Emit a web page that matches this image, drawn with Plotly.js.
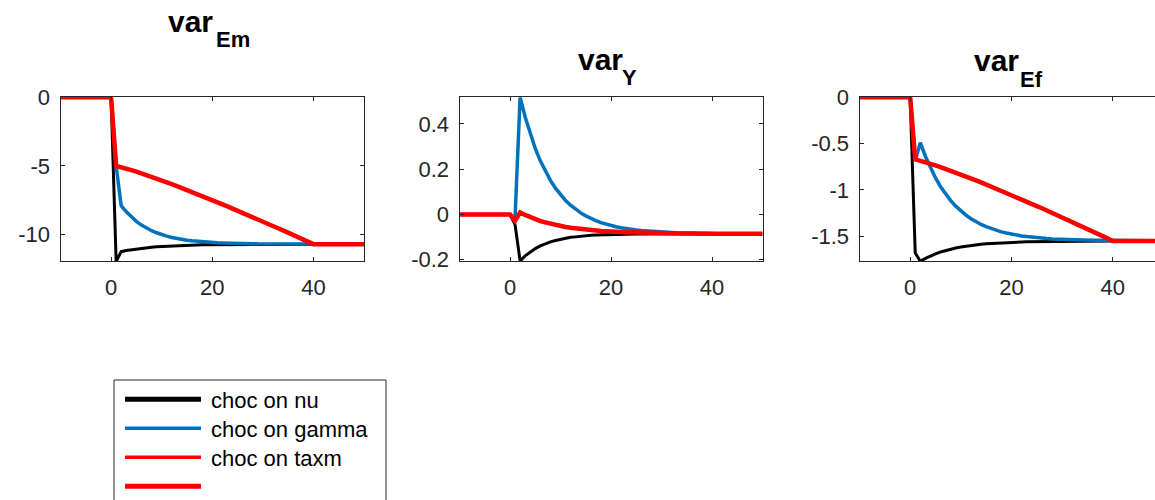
<!DOCTYPE html>
<html>
<head>
<meta charset="utf-8">
<script src="https://cdn.plot.ly/plotly-3.0.1.min.js"></script>
<style>
  html, body { margin: 0; padding: 0; overflow: hidden; background: #fff; }
  #chart { width: 1170px; height: 500px; }
</style>
</head>
<body>
<div id="chart"></div>
<script>
// ---------- data ----------
const periods = [-10,-9,-8,-7,-6,-5,-4,-3,-2,-1,0,1,2,3,4,5,6,7,8,9,10,11,12,13,14,15,16,17,18,19,20,21,22,23,24,25,26,27,28,29,30,31,32,33,34,35,36,37,38,39,40,41,42,43,44,45,46,47,48,49,50];

const seriesNames = ['choc on nu', 'choc on gamma', 'choc on taxm'];
const legendLabels = ['choc on nu', 'choc on gamma', 'choc on taxm', ''];

const panelTitles = ['var', 'var', 'var'];
const panelSubs = ['Em', 'Y', 'Ef'];

// var_Em
const emNu = [0,0,0,0,0,0,0,0,0,0,0,
  -11.95,-11.25,-11.17,-11.11,-11.05,-11.00,-10.96,-10.92,-10.89,-10.87,
  -10.84,-10.82,-10.81,-10.79,-10.78,-10.77,-10.76,-10.75,-10.74,-10.74,
  -10.73,-10.73,-10.72,-10.72,-10.72,-10.71,-10.71,-10.71,-10.70,-10.70,
  -10.70,-10.70,-10.70,-10.70,-10.70,-10.70,-10.70,-10.70,-10.70,-10.70,
  -10.70,-10.70,-10.70,-10.70,-10.70,-10.70,-10.70,-10.70,-10.70,-10.70];
const emGamma = [0,0,0,0,0,0,0,0,0,0,0,
  -5.00,-7.90,-8.35,-8.72,-9.04,-9.31,-9.53,-9.72,-9.87,-10.01,
  -10.12,-10.21,-10.29,-10.35,-10.41,-10.46,-10.50,-10.53,-10.56,-10.58,
  -10.60,-10.61,-10.63,-10.64,-10.65,-10.66,-10.66,-10.67,-10.68,-10.68,
  -10.69,-10.69,-10.69,-10.69,-10.69,-10.70,-10.70,-10.70,-10.70,-10.70,
  -10.70,-10.70,-10.70,-10.70,-10.70,-10.70,-10.70,-10.70,-10.70,-10.70];
const emTaxm = [0,0,0,0,0,0,0,0,0,0,0,
  -5.00,-5.08,-5.19,-5.30,-5.42,-5.54,-5.66,-5.79,-5.92,-6.06,
  -6.19,-6.33,-6.47,-6.61,-6.75,-6.90,-7.05,-7.19,-7.34,-7.49,
  -7.64,-7.80,-7.95,-8.11,-8.26,-8.42,-8.58,-8.73,-8.89,-9.05,
  -9.22,-9.38,-9.54,-9.70,-9.87,-10.03,-10.20,-10.37,-10.53,-10.70,
  -10.70,-10.70,-10.70,-10.70,-10.70,-10.70,-10.70,-10.70,-10.70,-10.70];

// var_Y
const yNu = [0,0,0,0,0,0,0,0,0,0,0,
  -0.045,-0.205,-0.183,-0.166,-0.151,-0.139,-0.129,-0.121,-0.115,-0.110,
  -0.105,-0.101,-0.099,-0.096,-0.094,-0.092,-0.091,-0.090,-0.089,-0.088,
  -0.088,-0.087,-0.087,-0.087,-0.086,-0.086,-0.086,-0.086,-0.085,-0.085,
  -0.085,-0.085,-0.085,-0.085,-0.085,-0.085,-0.085,-0.085,-0.085,-0.085,
  -0.085,-0.085,-0.085,-0.085,-0.085,-0.085,-0.085,-0.085,-0.085,-0.085];
const yGamma = [0,0,0,0,0,0,0,0,0,0,0,
  -0.015,0.518,0.431,0.356,0.292,0.237,0.191,0.151,0.116,0.087,
  0.062,0.041,0.023,0.007,-0.006,-0.018,-0.027,-0.036,-0.043,-0.049,
  -0.054,-0.059,-0.063,-0.066,-0.069,-0.071,-0.073,-0.075,-0.076,-0.077,
  -0.079,-0.080,-0.081,-0.082,-0.082,-0.083,-0.083,-0.084,-0.084,-0.084,
  -0.085,-0.085,-0.085,-0.085,-0.085,-0.085,-0.085,-0.085,-0.085,-0.085];
const yTaxm = [0,0,0,0,0,0,0,0,0,0,0,
  -0.028,0.009,-0.002,-0.012,-0.021,-0.029,-0.035,-0.041,-0.047,-0.051,
  -0.055,-0.059,-0.062,-0.065,-0.067,-0.069,-0.071,-0.073,-0.074,-0.076,
  -0.077,-0.078,-0.079,-0.079,-0.080,-0.081,-0.081,-0.082,-0.082,-0.082,
  -0.083,-0.083,-0.083,-0.084,-0.084,-0.085,-0.086,-0.086,-0.086,-0.085,
  -0.085,-0.085,-0.085,-0.085,-0.085,-0.085,-0.085,-0.085,-0.085,-0.085];

// var_Ef
const efNu = [0,0,0,0,0,0,0,0,0,0,0,
  -1.680,-1.770,-1.739,-1.713,-1.690,-1.670,-1.653,-1.639,-1.627,-1.616,
  -1.607,-1.599,-1.592,-1.586,-1.581,-1.577,-1.573,-1.570,-1.567,-1.565,
  -1.563,-1.561,-1.559,-1.558,-1.557,-1.556,-1.555,-1.554,-1.554,-1.553,
  -1.552,-1.552,-1.551,-1.551,-1.550,-1.550,-1.550,-1.550,-1.550,-1.550,
  -1.550,-1.550,-1.550,-1.550,-1.550,-1.550,-1.550,-1.550,-1.550,-1.550];
const efGamma = [0,0,0,0,0,0,0,0,0,0,0,
  -0.686,-0.490,-0.636,-0.762,-0.871,-0.965,-1.046,-1.115,-1.175,-1.227,
  -1.271,-1.310,-1.343,-1.372,-1.396,-1.417,-1.436,-1.452,-1.465,-1.477,
  -1.487,-1.496,-1.503,-1.510,-1.515,-1.520,-1.524,-1.528,-1.531,-1.533,
  -1.536,-1.538,-1.539,-1.541,-1.542,-1.543,-1.544,-1.545,-1.546,-1.547,
  -1.548,-1.548,-1.549,-1.549,-1.550,-1.550,-1.550,-1.550,-1.550,-1.550];
const efTaxm = [0,0,0,0,0,0,0,0,0,0,0,
  -0.670,-0.683,-0.699,-0.716,-0.734,-0.753,-0.772,-0.792,-0.812,-0.833,
  -0.854,-0.875,-0.897,-0.919,-0.941,-0.963,-0.986,-1.009,-1.032,-1.055,
  -1.078,-1.102,-1.126,-1.149,-1.174,-1.198,-1.222,-1.247,-1.271,-1.296,
  -1.321,-1.346,-1.371,-1.396,-1.422,-1.447,-1.473,-1.498,-1.524,-1.550,
  -1.550,-1.550,-1.550,-1.550,-1.550,-1.550,-1.550,-1.550,-1.550,-1.550];

// ticks
const xTickVals = [0, 20, 40];
const xTickText = ['0', '20', '40'];
const emTickVals = [-10, -5, 0];
const emTickText = ['-10', '-5', '0'];
const yTickVals = [-0.2, 0, 0.2, 0.4];
const yTickText = ['-0.2', '0', '0.2', '0.4'];
const efTickVals = [-1.5, -1, -0.5, 0];
const efTickText = ['-1.5', '-1', '-0.5', '0'];

// ---------- styling / layout ----------
const W = 1170, H = 500;
const px = v => v / W;
const py = v => 1 - v / H;
const FONT = 'Liberation Sans, Arial, Helvetica, sans-serif';
const AXC = '#262626';
const colors = ['#000000', '#0072BD', '#FF0000'];
const widths = [3, 3.5, 4.5];

const panels = [
  { data: [emNu, emGamma, emTaxm], yr: [-11.95, 0], tv: emTickVals, tt: emTickText, x0: 60.5, x1: 364 },
  { data: [yNu, yGamma, yTaxm], yr: [-0.207, 0.518], tv: yTickVals, tt: yTickText, x0: 459.5, x1: 762.5 },
  { data: [efNu, efGamma, efTaxm], yr: [-1.77, 0], tv: efTickVals, tt: efTickText, x0: 859.5, x1: 1163.5 }
];
const yTop = 97.3, yBot = 261.3;

const traces = [];
const layout = {
  width: W, height: H,
  margin: { l: 0, r: 0, t: 0, b: 0 },
  paper_bgcolor: '#ffffff', plot_bgcolor: '#ffffff',
  showlegend: false,
  annotations: [], shapes: []
};

panels.forEach((p, i) => {
  const s = i === 0 ? '' : String(i + 1);
  p.data.forEach((arr, k) => {
    traces.push({
      type: 'scatter', mode: 'lines', x: periods, y: arr, name: seriesNames[k],
      xaxis: 'x' + s, yaxis: 'y' + s,
      line: { color: colors[k], width: widths[k] },
      hoverinfo: 'skip'
    });
  });
  const common = {
    showline: true, mirror: 'ticks', linecolor: AXC, linewidth: 1,
    ticks: 'inside', ticklen: 4, tickwidth: 1, tickcolor: AXC,
    showgrid: false, zeroline: false, fixedrange: true,
    tickfont: { family: FONT, size: 22, color: AXC }
  };
  layout['xaxis' + s] = Object.assign({}, common, {
    domain: [px(p.x0), px(p.x1)], range: [-10, 50],
    tickmode: 'array', tickvals: xTickVals, ticktext: xTickText,
    anchor: 'y' + s, ticklabelstandoff: 6
  });
  layout['yaxis' + s] = Object.assign({}, common, {
    domain: [py(yBot), py(yTop)], range: p.yr,
    tickmode: 'array', tickvals: p.tv, ticktext: p.tt,
    anchor: 'x' + s, ticklabelstandoff: 5
  });
});

// titles (var + subscript)
const titlePos = [
  { vx: 214.5, vy: 21.7, sx: 215, sy: 39.1 },
  { vx: 623.5, vy: 59.6, sx: 621, sy: 77.4 },
  { vx: 1019.5, vy: 60.3, sx: 1018.5, sy: 79.1 }
];
titlePos.forEach((t, i) => {
  layout.annotations.push({
    xref: 'paper', yref: 'paper', x: px(t.vx), y: py(t.vy),
    xanchor: 'right', yanchor: 'middle', showarrow: false, borderpad: 0,
    text: panelTitles[i], font: { family: FONT, size: 30, color: '#000', weight: 'bold' }
  });
  layout.annotations.push({
    xref: 'paper', yref: 'paper', x: px(t.sx), y: py(t.sy),
    xanchor: 'left', yanchor: 'middle', showarrow: false, borderpad: 0,
    text: panelSubs[i], font: { family: FONT, size: 22, color: '#000', weight: 'bold' }
  });
});

// legend box
layout.shapes.push({
  type: 'rect', xref: 'paper', yref: 'paper',
  x0: px(114), x1: px(386), y0: py(530), y1: py(380),
  line: { color: AXC, width: 1 }, fillcolor: '#ffffff', layer: 'above'
});
const legColors = ['#000000', '#0072BD', '#FF0000', '#FF0000'];
const legWidths = [5, 3.5, 3.5, 5];
const legRows = [399.3, 428.3, 457.3, 486.3];
legendLabels.forEach((lab, k) => {
  layout.shapes.push({
    type: 'line', xref: 'paper', yref: 'paper',
    x0: px(125), x1: px(201), y0: py(legRows[k]), y1: py(legRows[k]),
    line: { color: legColors[k], width: legWidths[k] }, layer: 'above'
  });
  if (lab) {
    layout.annotations.push({
      xref: 'paper', yref: 'paper', x: px(210), y: py(legRows[k] + 1.5),
      xanchor: 'left', yanchor: 'middle', showarrow: false, borderpad: 0,
      text: lab, font: { family: FONT, size: 22, color: '#000' }
    });
  }
});

Plotly.newPlot('chart', traces, layout, { staticPlot: true, displayModeBar: false });
</script>
</body>
</html>
